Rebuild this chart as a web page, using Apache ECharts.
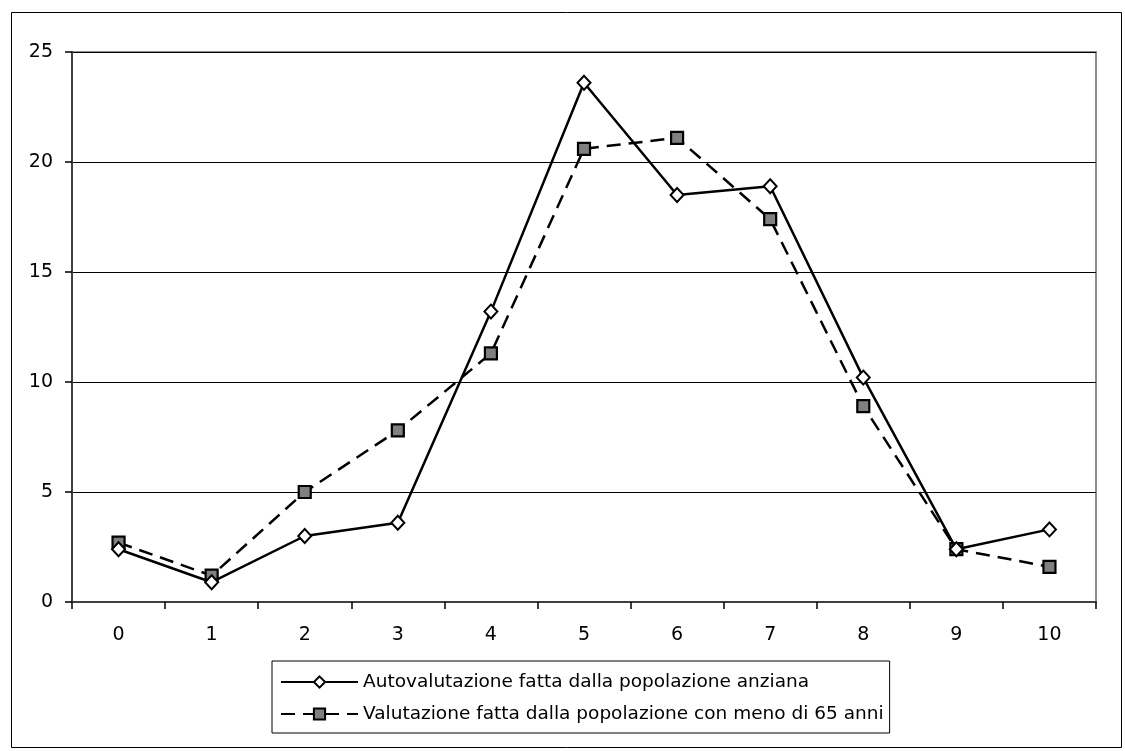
<!DOCTYPE html>
<html>
<head>
<meta charset="utf-8">
<script src="https://cdn.jsdelivr.net/npm/echarts@6/dist/echarts.min.js"></script>
<style>
html,body{margin:0;padding:0;background:#fff;}
#chart{width:1125px;height:751px;}
</style>
</head>
<body>
<div id="chart"></div>
<script>
const categories = ['0','1','2','3','4','5','6','7','8','9','10'];
const seriesNames = ['Autovalutazione fatta dalla popolazione anziana','Valutazione fatta dalla popolazione con meno di 65 anni'];
const elderly = [2.4, 0.9, 3.0, 3.6, 13.2, 23.6, 18.5, 18.9, 10.2, 2.4, 3.3];
const under65 = [2.7, 1.2, 5.0, 7.8, 11.3, 20.6, 21.1, 17.4, 8.9, 2.4, 1.6];

const FONT = 'DejaVu Sans';
const chart = echarts.init(document.getElementById('chart'), null, {renderer:'canvas'});
chart.setOption({
  animation:false,
  backgroundColor:'#ffffff',
  textStyle:{fontFamily:FONT},
  graphic:[{type:'rect',shape:{x:11.5,y:12.5,width:1110,height:735},style:{fill:'none',stroke:'#000',lineWidth:1},silent:true,z:-1}],
  grid:{left:72,top:52,right:29,bottom:149,show:true,borderColor:'#8c8c8c',borderWidth:2,containLabel:false},
  legend:{
    orient:'vertical',left:272,top:661,
    itemWidth:77,itemHeight:14,itemGap:12,
    borderColor:'#000',borderWidth:1,padding:[11,6,9,8],
    textStyle:{fontFamily:FONT,fontSize:18.5,lineHeight:20,color:'#000'},
    data:seriesNames
  },
  xAxis:{
    type:'category',data:categories,boundaryGap:true,
    axisLine:{lineStyle:{color:'#404040',width:2}},
    axisTick:{show:true,alignWithLabel:false,length:7,lineStyle:{color:'#000',width:1.5}},
    axisLabel:{fontFamily:FONT,fontSize:19,color:'#000',margin:24},
    splitLine:{show:false}
  },
  yAxis:{
    type:'value',min:0,max:25,interval:5,
    axisLine:{show:true,lineStyle:{color:'#404040',width:2}},
    axisTick:{show:true,length:7,lineStyle:{color:'#000',width:1.5}},
    axisLabel:{fontFamily:FONT,fontSize:19,color:'#000',margin:19},
    splitLine:{show:true,lineStyle:{color:'#000',width:1}}
  },
  series:[
    {name:seriesNames[0],type:'line',data:elderly,symbol:'diamond',symbolSize:[13,14],
     lineStyle:{color:'#000',width:2.5,type:'solid'},
     itemStyle:{color:'#fff',borderColor:'#000',borderWidth:2},z:3},
    {name:seriesNames[1],type:'line',data:under65,symbol:'rect',symbolSize:12,
     lineStyle:{color:'#000',width:2.5,type:[14,8]},
     itemStyle:{color:'#808080',borderColor:'#000',borderWidth:2.2},z:2}
  ]
});
</script>
</body>
</html>
